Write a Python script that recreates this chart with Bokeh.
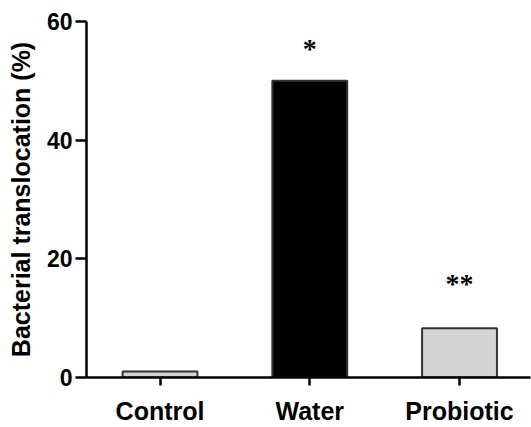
from bokeh.plotting import figure
from bokeh.models import ColumnDataSource, FixedTicker, Range1d, LabelSet
from bokeh.embed import file_html
from bokeh.resources import INLINE

categories = ["Control", "Water", "Probiotic"]
values = [1.0, 50.0, 8.3]
colors = ["#d4d4d4", "#000000", "#d4d4d4"]
sig_marks = ["", "*", "**"]
sig_y = [None, 55.5, 15.8]
y_ticks = [0, 20, 40, 60]

xs = list(range(len(categories)))
src = ColumnDataSource(dict(x=xs, top=values, color=colors))
sig_src = ColumnDataSource(dict(
    x=[x for x, s in zip(xs, sig_marks) if s],
    y=[y for y, s in zip(sig_y, sig_marks) if s],
    t=[s for s in sig_marks if s]))

p = figure(width=531, height=427, output_backend="svg", toolbar_location=None,
           x_range=Range1d(-0.491, 2.474), y_range=Range1d(0, 60),
           min_border_left=86, min_border_top=21, min_border_bottom=48, min_border_right=1)
p.outline_line_color = None
p.grid.grid_line_color = None

p.vbar(x="x", top="top", width=0.5, bottom=0, source=src, fill_color="color",
       line_color="#333333", line_width=2)

labels = LabelSet(x="x", y="y", text="t", source=sig_src, text_align="center",
                  text_baseline="middle", text_font="Liberation Sans", text_font_style="bold",
                  text_font_size="28px", text_color="#000000")
p.add_layout(labels)

font = "Liberation Sans"
for ax in (p.xaxis[0], p.yaxis[0]):
    ax.axis_line_width = 2.5
    ax.axis_line_color = "#000000"
    ax.major_tick_line_width = 2.5
    ax.major_tick_line_color = "#000000"
    ax.minor_tick_line_color = None
    ax.major_tick_in = 0
    ax.major_label_text_font = font
    ax.major_label_text_font_style = "bold"
    ax.major_label_text_color = "#000000"

p.yaxis.ticker = FixedTicker(ticks=y_ticks)
p.yaxis.major_tick_out = 11
p.yaxis.major_label_text_font_size = "23px"
p.yaxis.major_label_standoff = 3
p.yaxis.axis_label = "Bacterial translocation (%)"
p.yaxis.axis_label_text_font = font
p.yaxis.axis_label_text_font_style = "bold"
p.yaxis.axis_label_text_font_size = "25px"
p.yaxis.axis_label_text_color = "#000000"
p.yaxis.axis_label_standoff = 9

p.xaxis.ticker = FixedTicker(ticks=xs)
p.xaxis.major_label_overrides = {i: c for i, c in zip(xs, categories)}
p.xaxis.major_tick_out = 8
p.xaxis.major_label_text_font_size = "25px"
p.xaxis.major_label_text_line_height = 1.0
p.xaxis.major_label_standoff = 11

open("out.html", "w").write(file_html(p, INLINE))
